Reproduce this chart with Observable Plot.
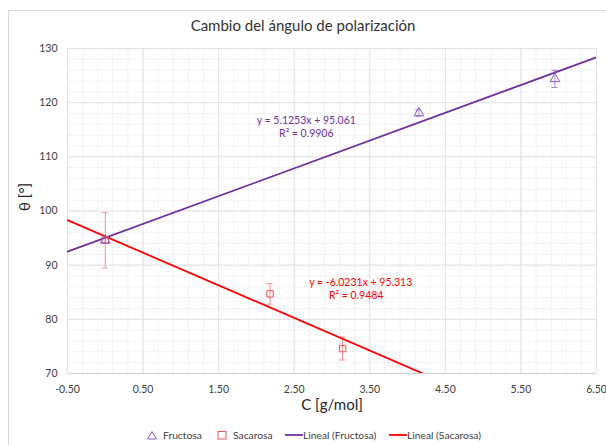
<!DOCTYPE html>
<html>
<head>
<meta charset="utf-8">
<script src="https://cdn.jsdelivr.net/npm/d3@7"></script>
<script src="https://cdn.jsdelivr.net/npm/@observablehq/plot@0.6"></script>
<style>
  html, body { margin: 0; padding: 0; background: #fff; }
  #wrap { position: relative; width: 606px; height: 445px; overflow: hidden; font-family: Lato, "Open Sans", sans-serif; }
  #frame { position: absolute; left: 8px; top: 10px; width: 610px; height: 450px; border: 1px solid #d9d9d9; box-sizing: border-box; }
  #title { position: absolute; left: 0; width: 606px; top: 16px; text-align: center; font-size: 15px; color: #333; }
  #legend { position: absolute; left: 0; width: 606px; top: 427px; height: 16px; font-size: 10.3px; color: #404040; white-space: nowrap; }
  #legend .it { position: absolute; top: 0; line-height: 16px; }
  #legend svg { position: absolute; top: 3px; }
  #chart { position: absolute; left: 0; top: 0; }
</style>
</head>
<body>
<div id="wrap">
  <div id="frame"></div>
  <div id="chart"></div>
  <div id="title">Cambio del ángulo de polarización</div>
  <div id="legend">
    <svg style="left:146px" width="12" height="10"><path d="M6,1.5 L10.5,9 L1.5,9 Z" fill="none" stroke="#8a5ac8" stroke-width="1"/></svg>
    <span class="it" style="left:163px">Fructosa</span>
    <svg style="left:216px" width="12" height="10"><rect x="2" y="1.5" width="8" height="7.5" fill="none" stroke="#f05050" stroke-width="1"/></svg>
    <span class="it" style="left:233px">Sacarosa</span>
    <svg style="left:285px" width="18" height="10"><line x1="0" y1="5" x2="18" y2="5" stroke="#7030a0" stroke-width="1.8"/></svg>
    <span class="it" style="left:303px">Lineal (Fructosa)</span>
    <svg style="left:389px" width="18" height="10"><line x1="0" y1="5" x2="18" y2="5" stroke="#ff0000" stroke-width="1.8"/></svg>
    <span class="it" style="left:407px">Lineal (Sacarosa)</span>
  </div>
</div>
<script>
// Data
const fructosaX = [0, 4.15, 5.95];
const fructosaY = [94.6, 118.1, 124.4];
const fructosaErr = [0.5, 0.6, 1.6];

const sacarosaX = [0, 2.18, 3.14];
const sacarosaY = [94.6, 84.7, 74.6];
const sacarosaErr = [5.1, 1.9, 2.1];

const fitFructosa = { m: 5.1253, b: 95.061, eq: "y = 5.1253x + 95.061", r2: "R² = 0.9906" };
const fitSacarosa = { m: -6.0231, b: 95.313, eq: "y = -6.0231x + 95.313", r2: "R² = 0.9484" };

const xTicks = [-0.5, 0.5, 1.5, 2.5, 3.5, 4.5, 5.5, 6.5];
const yTicks = [70, 80, 90, 100, 110, 120, 130];
const xDomain = [-0.5, 6.5];
const yDomain = [70, 130];

const purple = "#7030a0";
const purpleMarker = "#8a5ac8";
const red = "#ff0000";
const redMarker = "#f05050";
const redErr = "#f49090";
const purpleErr = "#a688cc";

const fru = fructosaX.map((x, i) => ({ x, y: fructosaY[i], lo: fructosaY[i] - fructosaErr[i], hi: fructosaY[i] + fructosaErr[i] }));
const sac = sacarosaX.map((x, i) => ({ x, y: sacarosaY[i], lo: sacarosaY[i] - sacarosaErr[i], hi: sacarosaY[i] + sacarosaErr[i] }));

const lineF = xDomain.map(x => ({ x, y: fitFructosa.m * x + fitFructosa.b }));
const lineS = xDomain.map(x => ({ x, y: fitSacarosa.m * x + fitSacarosa.b }));

const minorX = d3.range(-0.5, 6.5001, 0.2).map(v => +v.toFixed(2));
const minorY = d3.range(70, 130.001, 2);

function caps(data, color) {
  return [
    Plot.ruleY(data, { y: "hi", x1: "x", x2: "x", insetLeft: -3, insetRight: -3, stroke: color, strokeWidth: 1 }),
    Plot.ruleY(data, { y: "lo", x1: "x", x2: "x", insetLeft: -3, insetRight: -3, stroke: color, strokeWidth: 1 })
  ];
}

const chart = Plot.plot({
  width: 606,
  height: 445,
  marginLeft: 67,
  marginRight: 10,
  marginTop: 48,
  marginBottom: 72,
  style: { fontFamily: "Lato, 'Open Sans', sans-serif", background: "transparent", color: "#404040" },
  x: { domain: xDomain, ticks: xTicks, tickFormat: d => d.toFixed(2), tickSize: 0, tickPadding: 12, label: null },
  y: { domain: yDomain, ticks: yTicks, tickSize: 0, tickPadding: 10, label: null },
  marks: [
    Plot.ruleX(minorX, { stroke: "#f2f2f2", strokeWidth: 1 }),
    Plot.ruleY(minorY, { stroke: "#f2f2f2", strokeWidth: 1 }),
    Plot.ruleX(xTicks, { stroke: "#e2e2e2", strokeWidth: 1 }),
    Plot.ruleY(yTicks, { stroke: "#e2e2e2", strokeWidth: 1 }),
    Plot.ruleY([70], { stroke: "#cfcfcf", strokeWidth: 1 }),
    Plot.axisX({ ticks: xTicks, tickFormat: d => d.toFixed(2), tickSize: 0, tickPadding: 12, fontSize: 10.5, label: null }),
    Plot.axisY({ ticks: yTicks, tickSize: 0, tickPadding: 10, fontSize: 10.5, label: null }),
    // error bars
    Plot.ruleX(sac, { x: "x", y1: "lo", y2: "hi", stroke: redErr, strokeWidth: 1 }),
    ...caps(sac, redErr),
    Plot.ruleX(fru, { x: "x", y1: "lo", y2: "hi", stroke: purpleErr, strokeWidth: 1 }),
    ...caps(fru, purpleErr),
    // trend lines
    Plot.line(lineF, { x: "x", y: "y", stroke: purple, strokeWidth: 1.8, clip: true }),
    Plot.line(lineS, { x: "x", y: "y", stroke: red, strokeWidth: 1.8, clip: true }),
    // markers
    Plot.dot(sac, { x: "x", y: "y", symbol: "square", r: 3.6, stroke: redMarker, fill: "none", strokeWidth: 1 }),
    Plot.dot(fru, { x: "x", y: "y", symbol: "triangle", r: 3.6, stroke: purpleMarker, fill: "none", strokeWidth: 1 }),
    // equations
    Plot.text([fitFructosa.eq], { x: 2.66, y: 116.7, text: d => d, fill: purple, fontSize: 10.5 }),
    Plot.text([fitFructosa.r2], { x: 2.66, y: 114.3, text: d => d, fill: purple, fontSize: 10.5 }),
    Plot.text([fitSacarosa.eq], { x: 3.38, y: 86.8, text: d => d, fill: red, fontSize: 10.5 }),
    Plot.text([fitSacarosa.r2], { x: 3.32, y: 84.3, text: d => d, fill: red, fontSize: 10.5 }),
    // axis titles
    Plot.text(["C [g/mol]"], { frameAnchor: "bottom", dy: 36, text: d => d, fontSize: 15, fill: "#262626" }),
    Plot.text(["θ [°]"], { frameAnchor: "left", dx: -42, rotate: -90, text: d => d, fontSize: 15, fill: "#262626" })
  ]
});
document.getElementById("chart").appendChild(chart);
</script>
</body>
</html>
